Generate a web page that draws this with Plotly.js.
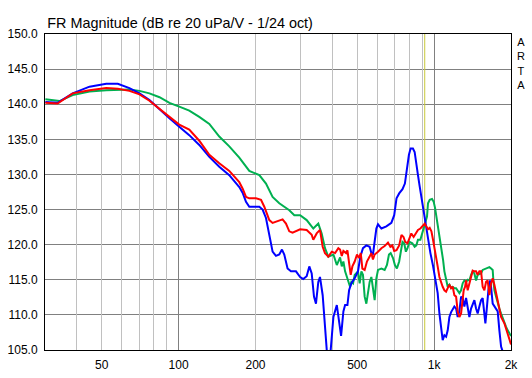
<!DOCTYPE html>
<html><head><meta charset="utf-8">
<script src="https://cdn.plot.ly/plotly-3.0.1.min.js"></script>
<style>html,body{margin:0;padding:0;background:#fff}#chart{width:532px;height:378px}</style>
</head><body><div id="chart"></div>
<script>
const titleText = 'FR Magnitude (dB re 20 uPa/V - 1/24 oct)';
const brandLetters = ['A','R','T','A'];
const xTickVals = [50,100,200,500,1000,2000];
const xTickText = ['50','100','200','500','1k','2k'];
const minorGridVals = [40,50,60,70,80,90,200,300,400,500,600,700,800,900];
const majorGridVals = [100,1000];
const freqRange = [30,2000];
const dbRange = [105,150];
const cursorFreq = 919;

const blueF = [30.1,33.6,38.5,44.8,52.1,57.8,64.2,70.3,76.9,84.2,92.1,100.6,110.1,120.5,131.9,144.3,157.9,172.8,178,183.6,189.1,207,213.2,219.8,226.5,233.3,240.5,247.8,253.9,259.2,267,275.3,288,299,307.6,317.2,324.8,331.9,338.8,344.9,352.2,357.6,366.4,374.1,381.9,391.8,403.6,416.2,424.6,432.5,441.6,448.4,457.9,464.8,474.6,488.9,503.6,514.6,526.8,543.1,559.5,568.2,576.4,585.3,594.3,603.2,622,650.4,680.4,698.1,712.7,730.1,752.2,768.6,782.6,797.1,809.4,826.4,839.2,852.3,864.8,878.2,891.9,904.9,919,933.2,946.7,967.4,990.4,1009,1032.9,1049,1065.2,1080.6,1097.4,1114.3,1130.6,1148,1165.8,1182.6,1200.6,1219.2,1237,1256,1275.4,1293.9,1313.9,1334.1,1353.6,1374.3,1395.6,1415.8,1437.6,1459.7,1481.1,1503.9,1527.1,1549.4,1573.3,1587.6,1606.2,1631,1656.3,1671.4,1695.7,1722,1748.5,1774.1,1801,1829,1855.3,1883.8];
const blueDb = [140.3,140.2,141.55,142.5,142.9,142.9,142.3,141.55,140.6,139.25,138.0,136.8,135.6,134.2,132.5,131.1,129.9,128.2,127.4,126.1,125.4,125.4,125.0,123.8,121.1,119.0,118.4,118.6,119.3,118.6,116.6,116.2,116.2,115.4,115.1,115.5,116.9,115.9,112.6,111.6,114.7,115.4,112.8,108.8,104,104,109.7,111.4,109.3,107.0,110.5,111.4,111.4,113.5,114.5,115.2,116.2,118.3,119.5,119.9,119.7,118.8,118.6,120.7,122.3,122.9,122.3,122.6,123.1,124.2,126.6,127.3,127.9,128.7,130.9,132.8,133.7,133.7,133.2,131.8,129.9,128.3,126.8,125.4,123.8,122.1,120.7,118.8,117.0,115.3,113.1,110.2,107.8,106.4,107.1,106.9,107.8,109.7,110.4,110.9,111.2,110.9,109.7,110.5,112.6,112.4,111.2,112.4,111.2,109.7,110.9,111.6,112.1,110.9,110.2,111.2,112.1,112.4,109.7,108.8,110.7,113.5,114.9,114.0,111.6,111.2,110.9,110.5,107.8,105.5,104.8,104.5];

const redF = [30.1,33.6,38.5,44.8,52.1,57.8,64.2,70.3,76.9,84.2,92.1,100.6,110.1,120.5,131.9,144.3,157.9,172.8,178,183.6,189.1,200.9,210.2,216.5,226.5,233.3,244,255.3,263.2,271.2,279.3,299,317.2,331.9,336.7,347.1,357.6,366.4,374.1,385.4,397.8,409.8,421.9,428.6,435.2,441.6,452.5,457.9,466.1,471.6,478.9,488.9,499.1,508.2,516.3,524,534.9,546,559.5,568.2,576.4,585.3,603.2,622,640.5,659.9,674.3,686.6,698.1,712.7,730.1,745.4,759.1,770.7,786.9,802.2,814.5,831.6,846.9,864.8,883.8,904.9,919,933.2,946.7,961.3,976.2,990.4,1002.7,1018.2,1032.9,1049,1065.2,1080.6,1097.4,1114.3,1130.6,1148,1165.8,1182.6,1200.6,1219.2,1237,1256,1275.4,1287,1305.6,1322.2,1334.1,1353.6,1374.3,1395.6,1415.8,1437.6,1459.7,1481.1,1503.9,1527.1,1549.4,1573.3,1597.5,1620.8,1645.9,1671.4,1695.7,1722,1748.5,1774.1,1801,1829,1883.8,1940.8,1970.7,2000];
const redDb = [140.2,140.1,141.55,142.0,142.3,142.2,141.9,141.4,140.5,139.4,138.2,137.1,136.4,134.8,132.8,131.6,130.5,128.9,128.0,126.8,126.6,126.6,126.4,125.4,123.5,123.1,123.3,123.6,123.0,121.9,121.7,122.2,122.1,121.4,120.7,121.6,122.1,119.7,118.8,118.3,119.0,118.8,119.5,119.3,118.4,119.1,118.8,119.2,117.1,115.7,116.9,117.6,118.6,118.1,118.8,116.6,116.4,117.6,118.3,118.8,117.9,118.6,119.0,119.5,119.8,120.3,119.7,119.9,119.1,119.2,119.9,121.4,121.1,120.4,120.2,120.9,121.6,121.1,121.6,122.1,122.3,122.8,123.0,122.6,122.2,122.4,121.9,120.7,119.7,118.3,116.9,115.4,114.5,114.0,113.5,113.3,113.8,114.3,113.8,114.0,112.8,112.6,110.5,109.7,110.2,111.9,113.5,114.0,114.9,113.5,114.5,115.4,116.3,116.2,116.2,115.7,116.2,116.2,114.0,113.5,114.7,114.9,112.8,114.5,115.2,114.3,113.1,111.6,110.5,109.7,108.8,107.4,106.4,105.8];

const greenF = [30.1,34.2,38.5,44.8,52.1,57.8,64.2,70.3,76.9,84.2,92.1,100.6,110.1,120.5,131.9,144.3,157.9,172.8,183.6,189.1,207,219.8,233.3,247.8,271.2,283.7,299,317.2,336.7,352.2,363.1,374.1,385.4,403.6,416.2,428.6,435.2,441.6,448.4,455.4,462,469,474.6,481.8,488.9,496.4,503.6,511.4,519.3,526.8,534.9,543.1,551,559.5,568.2,576.4,585.3,594.3,603.2,622,640.5,653.9,665.9,676.2,690.5,702.5,715.3,730.1,741.4,752.2,763.8,775.6,786.9,802.2,821.9,839.2,852.3,864.8,883.8,898,919,938.2,946.7,961.3,981.5,996.4,1009.1,1027.4,1039.5,1058.6,1070.9,1084.6,1097.4,1114.3,1130.6,1148,1165.8,1182.6,1200.6,1219.2,1237,1256,1275.4,1293.9,1313.9,1334.1,1353.6,1374.3,1395.6,1415.8,1437.6,1459.7,1481.1,1503.9,1527.1,1549.4,1597.5,1645.9,1671.4,1695.7,1706.4,1722,1748.5,1774.1,1801,1829,1855.3,1883.8,1913,1940.8,1970.7,2000];
const greenDb = [140.7,140.45,141.3,141.8,142.0,142.1,142.1,141.9,141.55,141.0,140.2,139.65,139.1,138.2,137.2,135.4,134.0,132.4,131.2,130.5,129.9,128.7,126.8,125.9,124.9,124.2,124.2,123.5,122.3,123.0,121.6,119.5,118.3,118.6,117.1,118.2,116.9,117.6,116.2,115.4,114.7,114.0,114.7,114.5,115.7,115.9,116.2,114.5,116.2,115.7,112.6,111.6,113.5,114.7,115.4,114.0,112.1,115.2,116.4,116.6,116.4,117.1,118.6,118.8,118.1,117.1,116.6,117.6,119.2,120.4,120.2,119.0,119.5,120.4,120.2,119.7,119.9,120.7,120.7,121.6,122.6,124.0,125.9,126.4,126.5,126.1,125.2,123.5,122.1,120.7,119.0,117.8,116.2,114.9,114.0,114.3,113.8,114.0,113.8,113.8,113.5,113.1,113.5,114.5,114.9,114.7,115.0,114.9,115.7,116.2,115.9,114.9,115.7,115.8,115.9,116.4,116.6,116.8,116.6,116.4,114.9,113.5,112.6,111.6,110.9,110.2,109.5,108.8,108.3,107.8,107.4,107.0];

const FONT = 'Liberation Sans, Arial, sans-serif';
const lineStyle = c => ({color: c, width: 2});

const traces = [
  {x: [], y: [], xaxis: 'x2', yaxis: 'y', showlegend: false, hoverinfo: 'skip'},
  {x: [], y: [], xaxis: 'x3', yaxis: 'y', showlegend: false, hoverinfo: 'skip'},
  {x: [cursorFreq, cursorFreq], y: dbRange, mode: 'lines', line: {color: '#c8c83c', width: 1}, showlegend: false, hoverinfo: 'skip'},
  {x: greenF, y: greenDb, mode: 'lines', line: lineStyle('#00b050'), showlegend: false},
  {x: blueF, y: blueDb, mode: 'lines', line: lineStyle('#0000ff'), showlegend: false},
  {x: redF, y: redDb, mode: 'lines', line: lineStyle('#ff0000'), showlegend: false}
];

const logRange = freqRange.map(v => Math.log10(v));
const gridAxis = (vals, color) => ({
  type: 'log', range: logRange, overlaying: 'x', anchor: 'y', side: 'bottom',
  tickmode: 'array', tickvals: vals, showticklabels: false, ticks: '',
  showgrid: true, gridcolor: color, gridwidth: 1, zeroline: false, showline: false
});

const annotations = [{
  text: brandLetters.join('<br>'), xref: 'paper', yref: 'paper', x: 1.0204, y: 1.0,
  xanchor: 'center', yanchor: 'top', showarrow: false, align: 'center',
  font: {family: FONT, size: 11, color: '#000'}
}];

const layout = {
  width: 532, height: 378,
  margin: {l: 45, r: 21, t: 34, b: 28, pad: 0},
  paper_bgcolor: '#fff', plot_bgcolor: '#fff',
  showlegend: false,
  title: {text: titleText, x: 0.005, xref: 'paper', xanchor: 'left', y: 1 - 23.2 / 378, yref: 'container', yanchor: 'middle',
          font: {family: FONT, size: 14.4, color: '#000'}},
  xaxis: {
    type: 'log', range: logRange, tickmode: 'array', tickvals: xTickVals, ticktext: xTickText,
    showgrid: false, ticks: '', zeroline: false, showline: true, mirror: true, linecolor: '#000', linewidth: 1,
    tickfont: {family: FONT, size: 12, color: '#000'}, ticklabelstandoff: 4
  },
  xaxis2: gridAxis(minorGridVals, '#c0c0c0'),
  xaxis3: gridAxis(majorGridVals, '#808080'),
  yaxis: {
    range: dbRange, tickmode: 'linear', tick0: 105, dtick: 5, tickformat: '.1f',
    showgrid: true, gridcolor: '#808080', gridwidth: 1, ticks: '', zeroline: false,
    showline: true, mirror: true, linecolor: '#000', linewidth: 1,
    tickfont: {family: FONT, size: 12, color: '#000'}, ticklabelstandoff: 4
  },
  annotations: annotations
};

Plotly.newPlot('chart', traces, layout, {displayModeBar: false, staticPlot: true});
</script>
</body></html>
